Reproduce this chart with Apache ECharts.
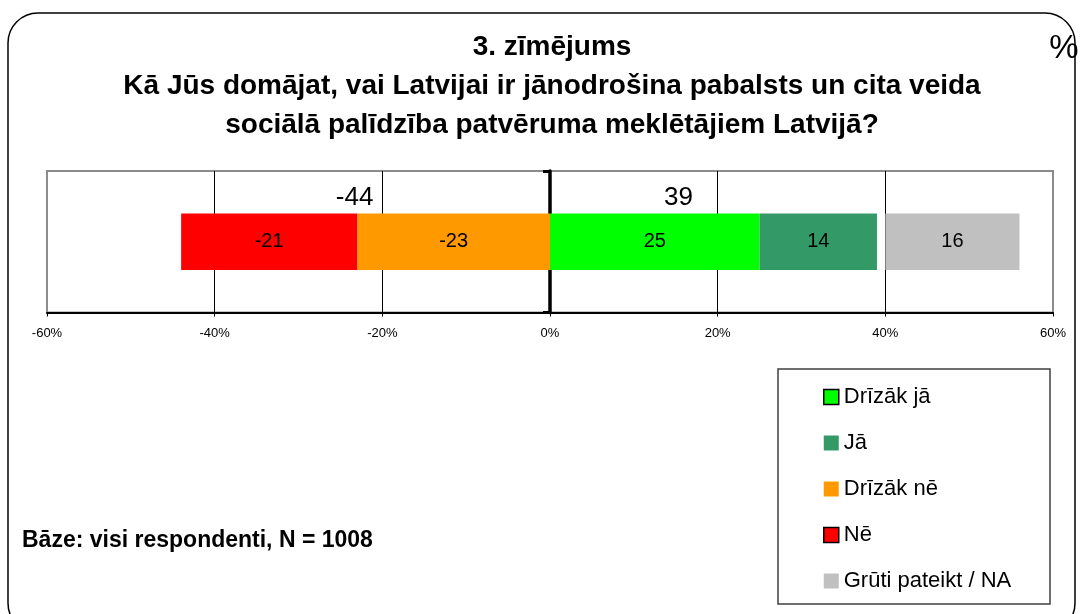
<!DOCTYPE html>
<html>
<head>
<meta charset="utf-8">
<script src="https://cdn.jsdelivr.net/npm/echarts@6/dist/echarts.min.js"></script>
<style>
html,body{margin:0;padding:0;background:#fff;}
#chart{width:1082px;height:614px;}
</style>
</head>
<body>
<div id="chart"></div>
<script>
// ---- data ----
const categories = ['Patvēruma meklētāji'];
const nameDrizakJa = 'Drīzāk jā';
const nameJa = 'Jā';
const nameDrizakNe = 'Drīzāk nē';
const nameNe = 'Nē';
const nameGruti = 'Grūti pateikt / NA';
const valDrizakNe = [-23];
const valNe = [-21];
const valDrizakJa = [25];
const valJa = [14];
const valGap = [1];
const valGruti = [16];
const totalNe = [-44];
const totalJa = [39];
const axisMin = -60, axisMax = 60, axisStep = 20;
const titleLines = ['3. zīmējums', 'Kā Jūs domājat, vai Latvijai ir jānodrošina pabalsts un cita veida', 'sociālā palīdzība patvēruma meklētājiem Latvijā?'];
const baseText = 'Bāze: visi respondenti, N = 1008';

const FONT = '"Liberation Sans", Arial, sans-serif';
const chart = echarts.init(document.getElementById('chart'), null, {renderer: 'canvas'});

const innerLabel = {show: true, position: 'inside', color: '#000', fontSize: 20, fontFamily: FONT};
function seg(name, data, color, extra) {
  return Object.assign({
    name: name, type: 'bar', stack: 'main', data: data, barWidth: '40%', barGap: '-100%',
    itemStyle: {color: color}, label: innerLabel, emphasis: {disabled: true}
  }, extra || {});
}

const option = {
  animation: false,
  backgroundColor: '#fff',
  textStyle: {fontFamily: FONT},
  title: {
    text: titleLines.join('\n'),
    left: 552, top: 28, padding: 0,
    textAlign: 'center',
    textStyle: {fontSize: 28, fontWeight: 'bold', lineHeight: 39, color: '#000', fontFamily: FONT}
  },
  grid: {
    left: 47, right: 29, top: 171, bottom: 301.5,
    show: true, borderColor: '#8c8c8c', borderWidth: 2, backgroundColor: '#fff'
  },
  xAxis: {
    type: 'value', min: axisMin, max: axisMax, interval: axisStep,
    axisLine: {show: true, onZero: false, lineStyle: {color: '#000', width: 2}},
    axisTick: {show: true, length: 4, lineStyle: {color: '#000', width: 1}},
    axisLabel: {formatter: '{value}%', fontSize: 13, color: '#000', margin: 14, fontFamily: FONT},
    splitLine: {show: true, showMinLine: false, showMaxLine: false, lineStyle: {color: '#000', width: 1}}
  },
  yAxis: {
    type: 'category', data: categories,
    axisLine: {show: true, onZero: true, lineStyle: {color: '#000', width: 3.5}},
    axisTick: {show: true, length: 7, lineStyle: {color: '#000', width: 3}},
    axisLabel: {show: false},
    splitLine: {show: false}
  },
  legend: {
    orient: 'vertical', left: 818, top: 381,
    itemWidth: 15, itemHeight: 15, itemGap: 24,
    icon: 'rect',
    selectedMode: false,
    textStyle: {fontSize: 22, color: '#000', fontFamily: FONT},
    data: [
      {name: nameDrizakJa, itemStyle: {borderColor: '#000', borderWidth: 1.5}},
      {name: nameJa},
      {name: nameDrizakNe},
      {name: nameNe, itemStyle: {borderColor: '#000', borderWidth: 1.5}},
      {name: nameGruti}
    ]
  },
  series: [
    seg(nameDrizakNe, valDrizakNe, '#FF9900'),
    seg(nameNe, valNe, '#FF0000'),
    seg(nameDrizakJa, valDrizakJa, '#00FF00'),
    seg(nameJa, valJa, '#339966'),
    seg('gap', valGap, 'rgba(0,0,0,0)', {label: {show: false}, silent: true}),
    seg(nameGruti, valGruti, '#C0C0C0'),
    {
      name: 'totalNe', type: 'bar', stack: 'total', data: totalNe, barWidth: '40%', barGap: '-100%',
      itemStyle: {color: 'rgba(0,0,0,0)'}, silent: true, z: 5,
      label: {show: true, position: 'top', distance: 3, offset: [-11, 0], color: '#000', fontSize: 26, fontFamily: FONT}
    },
    {
      name: 'totalJa', type: 'bar', stack: 'total', data: totalJa, barWidth: '40%', barGap: '-100%',
      itemStyle: {color: 'rgba(0,0,0,0)'}, silent: true, z: 5,
      label: {show: true, position: 'top', distance: 3, offset: [-35, 0], color: '#000', fontSize: 26, fontFamily: FONT}
    }
  ],
  graphic: [
    {type: 'rect', z: -1, shape: {x: 8, y: 13, width: 1067, height: 620, r: 30},
     style: {fill: null, stroke: '#000', lineWidth: 1.5}},
    {type: 'rect', z: 1, shape: {x: 778, y: 369, width: 272, height: 235},
     style: {fill: null, stroke: '#404040', lineWidth: 1.5}},
    {type: 'text', x: 1064, y: 49, style: {text: '%', fontSize: 33, fontFamily: FONT, fill: '#000', align: 'center', verticalAlign: 'middle'}},
    {type: 'text', x: 22, y: 541, style: {text: baseText, fontSize: 23, fontWeight: 'bold', fontFamily: FONT, fill: '#000', align: 'left', verticalAlign: 'middle'}}
  ]
};
chart.setOption(option);
</script>
</body>
</html>
